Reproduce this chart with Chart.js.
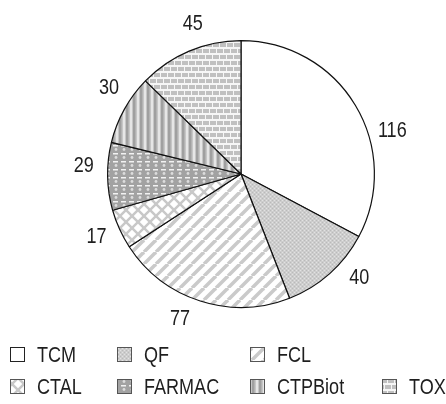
<!DOCTYPE html>
<html>
<head>
<meta charset="utf-8">
<script src="https://cdn.jsdelivr.net/npm/chart.js@4"></script>
<style>
  html, body { margin: 0; padding: 0; background: #fff; }
  #wrap { width: 446px; height: 404px; }
</style>
</head>
<body>
<div id="wrap"><canvas id="pie"></canvas></div>
<script>
const labels = ["TCM", "QF", "FCL", "CTAL", "FARMAC", "CTPBiot", "TOX"];
const counts = [116, 40, 77, 17, 29, 30, 45];

// small angle nudges (degrees) for the value labels, as in the original figure
const labelShift = [15, -7, 5, 1, 4, 4, 5];
const FONT = "'Liberation Sans', Arial, sans-serif";
const SQUEEZE = 0.82; // the scan uses a narrow sans, so condense horizontally

function tile(w, h, draw) {
    const c = document.createElement("canvas");
    c.width = w;
    c.height = h;
    const g = c.getContext("2d");
    draw(g, w, h);
    return g.createPattern(c, "repeat");
}

// fill patterns, roughly like the scanned hatchings
const patterns = [
    "#ffffff",
    tile(4, 4, (g) => {
        g.fillStyle = "#cdcdcd"; g.fillRect(0, 0, 4, 4);
        g.fillStyle = "#bababa"; g.fillRect(0, 0, 1, 1); g.fillRect(2, 2, 1, 1);
        g.fillStyle = "#e2e2e2"; g.fillRect(2, 0, 1, 1); g.fillRect(0, 2, 1, 1);
    }),
    tile(12, 12, (g, w, h) => {
        g.fillStyle = "#ffffff"; g.fillRect(0, 0, w, h);
        g.strokeStyle = "#cacaca"; g.lineWidth = 3.5;
        for (const o of [-w, 0, w]) {
            g.beginPath(); g.moveTo(o, h); g.lineTo(o + w, 0); g.stroke();
        }
    }),
    tile(12, 12, (g, w, h) => {
        g.fillStyle = "#ffffff"; g.fillRect(0, 0, w, h);
        g.strokeStyle = "#c8c8c8"; g.lineWidth = 2.5;
        for (const o of [-w, 0, w]) {
            g.beginPath(); g.moveTo(o, h); g.lineTo(o + w, 0); g.stroke();
            g.beginPath(); g.moveTo(o, 0); g.lineTo(o + w, h); g.stroke();
        }
    }),
    tile(8, 8, (g) => {
        g.fillStyle = "#a2a2a2"; g.fillRect(0, 0, 8, 8);
        g.fillStyle = "#f2f2f2"; g.fillRect(1, 1, 5, 1.5);
        g.fillStyle = "#dcdcdc";
        g.beginPath(); g.arc(4, 5.5, 1.4, 0, Math.PI * 2); g.fill();
    }),
    tile(7, 7, (g) => {
        g.fillStyle = "#c6c6c6"; g.fillRect(0, 0, 7, 7);
        g.fillStyle = "#a0a0a0"; g.fillRect(0, 0, 2.5, 7);
        g.fillStyle = "#e6e6e6"; g.fillRect(4, 0, 2, 7);
    }),
    tile(14, 12, (g) => {
        g.fillStyle = "#f6f6f6"; g.fillRect(0, 0, 14, 12);
        g.fillStyle = "#c0c0c0";
        g.fillRect(0, 1, 6, 4); g.fillRect(7, 1, 6, 4);
        g.fillRect(3, 7, 6, 4); g.fillRect(10, 7, 4, 4); g.fillRect(0, 7, 2, 4);
    })
];

function squeezedText(ctx, text, x, y, align) {
    ctx.save();
    ctx.translate(x, y);
    ctx.scale(SQUEEZE, 1);
    ctx.textAlign = align;
    ctx.fillText(text, 0, 0);
    ctx.restore();
}

// value labels outside the slices
const valueLabels = {
    id: "valueLabels",
    afterDatasetsDraw(chart) {
        const ctx = chart.ctx;
        const arcs = chart.getDatasetMeta(0).data;
        ctx.save();
        ctx.font = "22px " + FONT;
        ctx.fillStyle = "#1e1e1e";
        ctx.textBaseline = "middle";
        arcs.forEach((arc, i) => {
            const mid = (arc.startAngle + arc.endAngle) / 2 + labelShift[i] * Math.PI / 180;
            const r = arc.outerRadius + 24;
            squeezedText(ctx, String(counts[i]), arc.x + Math.cos(mid) * r, arc.y + Math.sin(mid) * r, "center");
        });
        ctx.restore();
    }
};

// legend grid under the pie
const gridLegend = {
    id: "gridLegend",
    afterDraw(chart) {
        const ctx = chart.ctx;
        const cols = [10, 117, 250, 382];
        const rows = [355, 387];
        ctx.save();
        ctx.font = "22px " + FONT;
        ctx.textBaseline = "middle";
        labels.forEach((name, i) => {
            const row = i < 3 ? 0 : 1;
            const col = i < 3 ? i : i - 3;
            const x = cols[col];
            const y = rows[row];
            ctx.fillStyle = patterns[i];
            ctx.fillRect(x, y - 8, 15, 15);
            ctx.strokeStyle = i === 0 ? "#222" : "#555";
            ctx.lineWidth = 1;
            ctx.strokeRect(x + 0.5, y - 7.5, 14, 14);
            ctx.fillStyle = "#1e1e1e";
            squeezedText(ctx, name, x + 27, y + 1, "left");
        });
        ctx.restore();
    }
};

new Chart(document.getElementById("pie"), {
    type: "pie",
    data: {
        labels: labels,
        datasets: [{
            data: counts,
            backgroundColor: patterns,
            borderColor: "#111",
            borderWidth: 1.2
        }]
    },
    options: {
        responsive: true,
        maintainAspectRatio: false,
        animation: false,
        layout: { padding: { left: 107, right: 71, top: 40, bottom: 96 } },
        plugins: {
            legend: { display: false },
            tooltip: { enabled: false }
        }
    },
    plugins: [valueLabels, gridLegend]
});
</script>
</body>
</html>
